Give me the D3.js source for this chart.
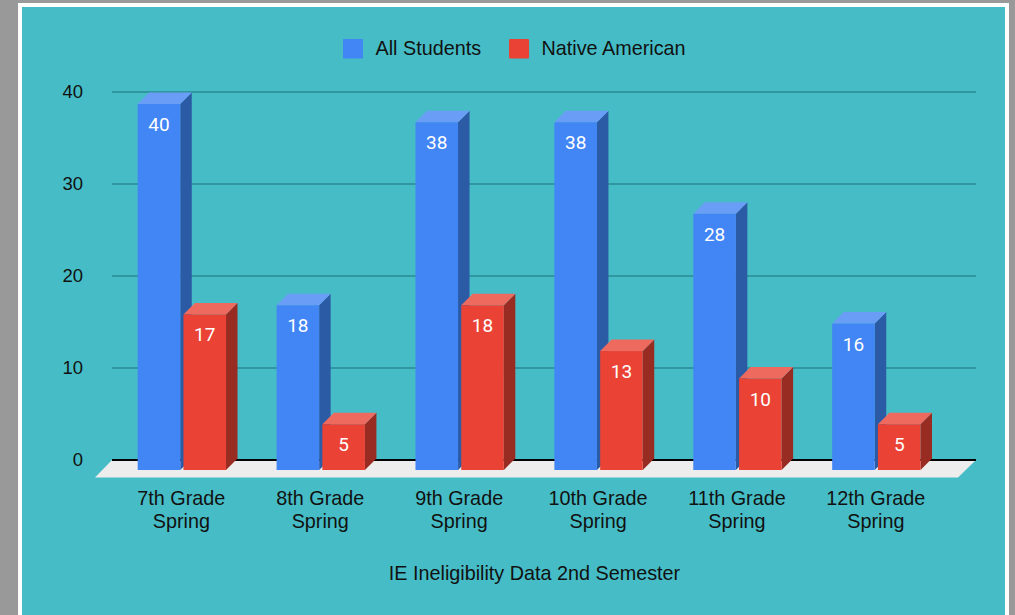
<!DOCTYPE html>
<html>
<head>
<meta charset="utf-8">
<script src="https://cdn.jsdelivr.net/npm/d3@7"></script>
<style>
  html, body { margin: 0; padding: 0; background: #999999; overflow: hidden; }
  svg { display: block; }
  text { font-family: "Liberation Sans", Arial, sans-serif; fill: #111; }
  .value { font-family: Roboto, sans-serif; fill: #fff; }
</style>
</head>
<body>
<div id="chart"></div>
<script>
/* Data */
var categories = ['7th Grade', '8th Grade', '9th Grade', '10th Grade', '11th Grade', '12th Grade'];
var categorySub = ['Spring', 'Spring', 'Spring', 'Spring', 'Spring', 'Spring'];
var seriesNames = ['All Students', 'Native American'];
var allStudents = [40, 18, 38, 38, 28, 16];
var nativeAmerican = [17, 5, 18, 13, 10, 5];
var yTicks = [0, 10, 20, 30, 40];
var axisTitle = 'IE Ineligibility Data 2nd Semester';

var width = 1015,
    height = 615,
    depthX = 11.5,
    depthY = 11.5;

var colours = {
  'All Students': {front: '#4285f4', top: '#6a9df6', side: '#2c5ba6'},
  'Native American': {front: '#ea4335', top: '#ee6a5f', side: '#992c22'}
};

var svg = d3.select('#chart').append('svg')
    .attr('width', width)
    .attr('height', height);

// page frame
svg.append('rect').attr('x', 18).attr('y', 3).attr('width', 991).attr('height', 612).attr('fill', '#fff');
svg.append('rect').attr('x', 22).attr('y', 7).attr('width', 983).attr('height', 608).attr('fill', '#46bdc6');

// scales
var x0 = d3.scaleBand()
    .domain(categories)
    .range([112.4, 945.8])
    .paddingInner(0.364)
    .paddingOuter(0.182);

var x1 = d3.scaleBand()
    .domain(seriesNames)
    .range([0, x0.bandwidth()])
    .paddingInner(0.07);

var yFront = d3.scaleLinear().domain([0, 40]).range([470, 104]);
var yBack = d3.scaleLinear().domain([0, 40]).range([459.5, 91.5]);

// floor
var floorY = yBack(0) + 0.5;
svg.append('polygon')
    .attr('points', [[112, floorY], [976, floorY], [958, 477.5], [95, 477.5]].join(' '))
    .attr('fill', '#ededed');

// gridlines and value axis
var yAxis = svg.append('g')
    .attr('transform', 'translate(112,0)')
    .call(d3.axisLeft(yBack).tickValues(yTicks).tickSize(-864).tickPadding(29).tickFormat(d3.format('d')));
yAxis.select('.domain').remove();
yAxis.selectAll('.tick line')
    .attr('stroke', function(d) { return d === 0 ? '#000' : '#2a8b95'; })
    .attr('stroke-width', function(d) { return d === 0 ? 2 : 1.5; });
yAxis.selectAll('.tick text')
    .attr('font-size', 18.5)
    .attr('fill', '#111');
yAxis.attr('font-family', null);

// bars
var rows = [];
categories.forEach(function(c, i) {
  rows.push({category: c, series: seriesNames[0], value: allStudents[i]});
  rows.push({category: c, series: seriesNames[1], value: nativeAmerican[i]});
});

var bars = svg.append('g').selectAll('g')
    .data(rows)
    .enter()
    .append('g');

function left(d) { return x0(d.category) + x1(d.series); }

bars.append('polygon')
    .attr('fill', function(d) { return colours[d.series].side; })
    .attr('points', function(d) {
      var r = left(d) + x1.bandwidth(), t = yFront(d.value), b = yFront(0);
      return [[r, t], [r + depthX, t - depthY], [r + depthX, b - depthY], [r, b]].join(' ');
    });

bars.append('polygon')
    .attr('fill', function(d) { return colours[d.series].top; })
    .attr('points', function(d) {
      var l = left(d), r = l + x1.bandwidth(), t = yFront(d.value);
      return [[l, t], [r, t], [r + depthX, t - depthY], [l + depthX, t - depthY]].join(' ');
    });

bars.append('rect')
    .attr('fill', function(d) { return colours[d.series].front; })
    .attr('x', left)
    .attr('y', function(d) { return yFront(d.value); })
    .attr('width', x1.bandwidth())
    .attr('height', function(d) { return yFront(0) - yFront(d.value); });

bars.append('text')
    .attr('class', 'value')
    .attr('text-anchor', 'middle')
    .attr('font-size', 19)
    .attr('x', function(d) { return left(d) + x1.bandwidth() / 2; })
    .attr('y', function(d) { return yFront(d.value) + 27; })
    .text(function(d) { return d.value; });

// category labels
var labels = svg.append('g').selectAll('text')
    .data(categories)
    .enter()
    .append('text')
    .attr('text-anchor', 'middle')
    .attr('font-size', 19.8)
    .attr('y', 505);
labels.append('tspan')
    .attr('x', function(d) { return x0(d) + x0.bandwidth() / 2 - 0.5; })
    .text(function(d) { return d; });
labels.append('tspan')
    .attr('x', function(d) { return x0(d) + x0.bandwidth() / 2 - 0.5; })
    .attr('dy', 23)
    .text(function(d, i) { return categorySub[i]; });

// axis title
svg.append('text')
    .attr('x', 534.5)
    .attr('y', 580)
    .attr('text-anchor', 'middle')
    .attr('font-size', 19.8)
    .text(axisTitle);

// legend
var legendX = d3.scaleOrdinal().domain(seriesNames).range([343, 509]);
var legend = svg.append('g').selectAll('g')
    .data(seriesNames)
    .enter()
    .append('g')
    .attr('transform', function(d) { return 'translate(' + legendX(d) + ',39)'; });
legend.append('rect')
    .attr('width', 20)
    .attr('height', 19.5)
    .attr('rx', 1)
    .attr('fill', function(d) { return colours[d].front; });
legend.append('text')
    .attr('x', 32.5)
    .attr('y', 16)
    .attr('font-size', 19.8)
    .text(function(d) { return d; });
</script>
</body>
</html>
